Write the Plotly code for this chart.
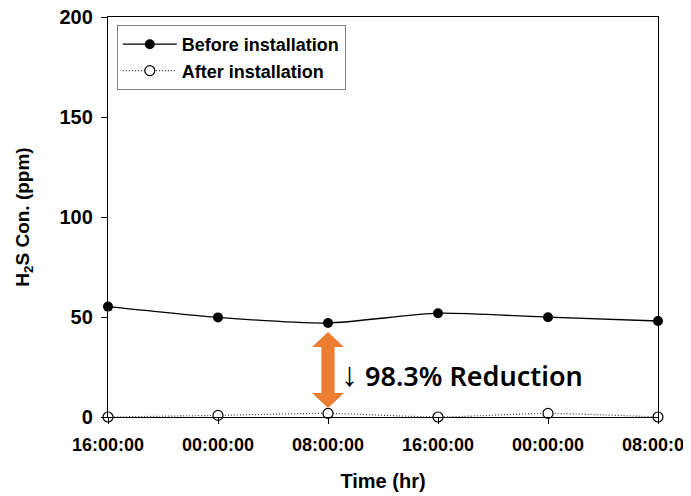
import plotly.graph_objects as go

time_labels = ["16:00:00", "00:00:00", "08:00:00", "16:00:00", "00:00:00", "08:00:00"]
before_vals = [55.2, 49.8, 47.0, 51.9, 49.9, 48.0]
after_vals = [0.0, 0.8, 1.8, 0.0, 1.8, 0.0]
reduction_label = "98.3% Reduction"

x_idx = list(range(len(time_labels)))

fig = go.Figure()
fig.add_trace(go.Scatter(
    x=x_idx, y=before_vals, name="Before installation", mode="lines+markers",
    line=dict(color="black", width=1.3, shape="spline", smoothing=0.6),
    marker=dict(symbol="circle", size=10, color="black"),
    cliponaxis=False,
))
fig.add_trace(go.Scatter(
    x=x_idx, y=after_vals, name="After installation", mode="lines+markers",
    line=dict(color="#333333", width=1.2, dash="1px,2px", shape="spline", smoothing=0.6),
    marker=dict(symbol="circle", size=10, color="white", line=dict(color="black", width=1.2)),
    cliponaxis=False,
))

# double arrow between the curves at 08:00:00
ai = 2
xc = x_idx[ai]
top = before_vals[ai] - 4.5
bot = after_vals[ai] + 2.7
hw_s, hw_h, hh = 0.06, 0.145, 7.5
path = (f"M {xc},{top} L {xc+hw_h},{top-hh} L {xc+hw_s},{top-hh} L {xc+hw_s},{bot+hh} "
        f"L {xc+hw_h},{bot+hh} L {xc},{bot} L {xc-hw_h},{bot+hh} L {xc-hw_s},{bot+hh} "
        f"L {xc-hw_s},{top-hh} L {xc-hw_h},{top-hh} Z")
fig.add_shape(type="path", path=path, xref="x", yref="y",
              fillcolor="#ED7D31", line=dict(width=0))

fig.add_annotation(x=xc + 0.1, y=22, xref="x", yref="y",
                   text="<span style='font-size:34px'>↓</span> " + reduction_label,
                   showarrow=False, xanchor="left", yanchor="middle",
                   font=dict(family="Noto Sans", size=27, color="black", weight=600))

fam = "Liberation Sans, Arial"
fig.update_layout(
    width=691, height=496,
    margin=dict(l=100, r=41, t=9, b=87),
    paper_bgcolor="white", plot_bgcolor="white",
    font=dict(family=fam, color="black"),
    showlegend=True,
    legend=dict(x=0.016, y=0.98, xanchor="left", yanchor="top",
                bordercolor="#808080", borderwidth=1, bgcolor="white",
                font=dict(family=fam, size=18, color="black", weight="bold"),
                tracegroupgap=0, itemwidth=54),
    xaxis=dict(range=[0, 5], tickvals=x_idx, ticktext=time_labels, automargin=False,
               ticklabeloverflow="allow", ticklabelstandoff=5,
               showgrid=False, zeroline=False, showline=True, linecolor="black", linewidth=1.3,
               mirror=True, ticks="outside", ticklen=6, tickcolor="black",
               tickfont=dict(family=fam, size=18, color="black", weight="bold"),
               title=dict(text="Time (hr)", font=dict(family=fam, size=20, color="black", weight="bold"), standoff=20)),
    yaxis=dict(range=[0, 200], tickvals=[0, 50, 100, 150, 200], automargin=False,
               ticklabeloverflow="allow", ticklabelstandoff=4,
               showgrid=False, zeroline=False, showline=True, linecolor="black", linewidth=1.3,
               mirror=True, ticks="outside", ticklen=6, tickcolor="black",
               tickfont=dict(family=fam, size=20, color="black", weight="bold"),
               title=dict(text="H<sub>2</sub>S Con. (ppm)", font=dict(family=fam, size=19, color="black", weight="bold"), standoff=24)),
)

fig.write_html("out.html")
